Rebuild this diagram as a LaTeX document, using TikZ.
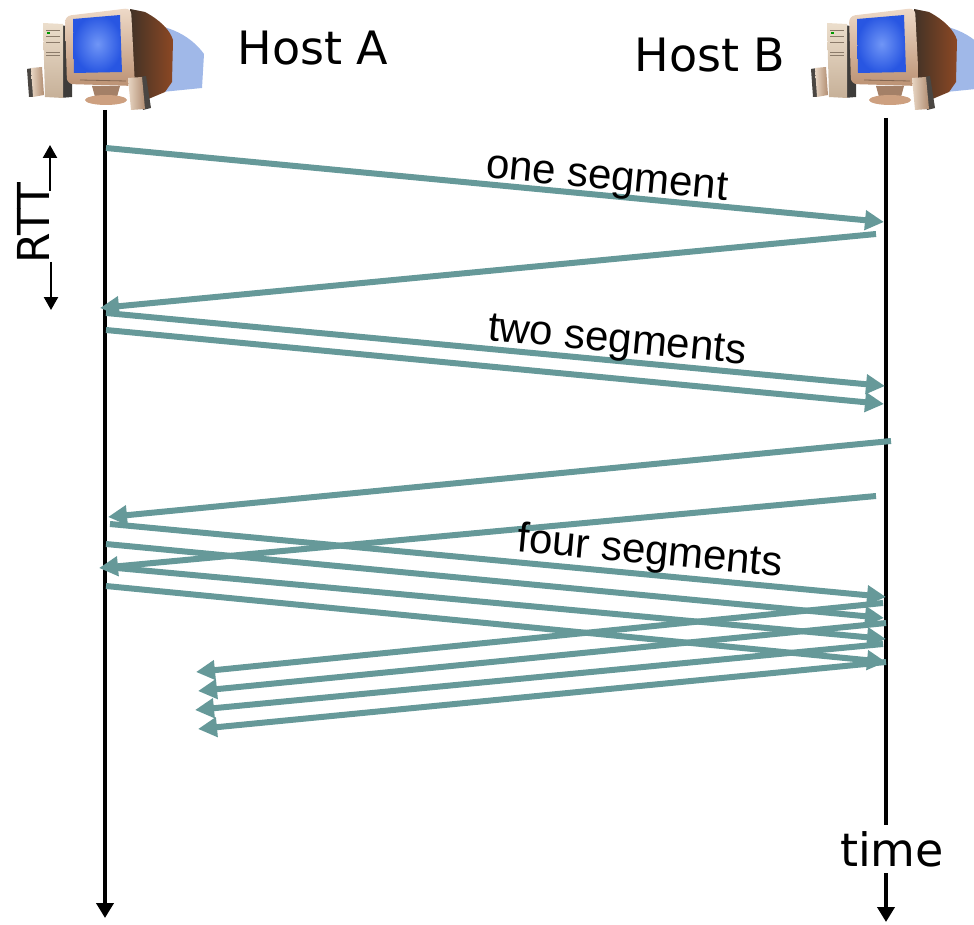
\documentclass[tikz,border=0pt]{standalone}
\usepackage{fontspec}
\setmainfont{Liberation Sans}
\newfontfamily\handfont{DejaVu Sans}
\usetikzlibrary{arrows.meta}

\definecolor{segteal}{RGB}{102,153,153}
\definecolor{wallblue}{RGB}{160,184,232}
\definecolor{monback}{RGB}{66,50,38}
\definecolor{monrust}{RGB}{140,72,36}
\definecolor{bezellight}{RGB}{238,218,200}
\definecolor{bezeldark}{RGB}{188,146,116}
\definecolor{screenlight}{RGB}{112,150,246}
\definecolor{screendark}{RGB}{40,86,226}
\definecolor{caselight}{RGB}{236,222,204}
\definecolor{casedark}{RGB}{198,176,152}
\definecolor{caseside}{RGB}{62,60,58}
\definecolor{spklight}{RGB}{232,214,196}
\definecolor{spkmid}{RGB}{176,140,112}
\definecolor{spkdark}{RGB}{74,70,66}
\definecolor{standcol}{RGB}{205,160,128}

% desktop pc: tower, monitor and two speakers
\tikzset{
  computer/.pic={
    % shadow on the wall
    \fill[wallblue] (148,24) .. controls (176,27) and (194,40) .. (204,54)
      -- (202,88) -- (152,93) -- cycle;
    % back of the monitor
    \shade[left color=monback,right color=monrust] (130,9) -- (145,12)
      .. controls (160,20) and (170,30) .. (173,40) -- (172,82) -- (165,92)
      -- (146,100) -- (134,98) -- cycle;
    % tower
    \fill[caseside] (60,25) -- (72,27) -- (72,97) -- (60,98) -- cycle;
    \shade[top color=caselight,bottom color=casedark] (43,23) -- (63,24)
      -- (63,98) -- (45,97) -- cycle;
    \draw[casedark!70!black,line width=0.3pt] (46,30) -- (60,30) (46,36) -- (60,36)
      (46,42) -- (60,42) (46,52) -- (60,52) (46,55) -- (60,55);
    \fill[green!60!black] (47,32) rectangle (50,34);
    % left speaker
    \fill[spkdark] (27,69) -- (33,68) -- (34,97) -- (29,97) -- cycle;
    \shade[left color=spklight,right color=spkmid] (31,68) -- (42,67)
      -- (44,95) -- (33,97) -- cycle;
    % stand
    \fill[standcol!80!black] (92,86) -- (120,86) -- (117,97) -- (95,97) -- cycle;
    \fill[standcol] (106,100) ellipse [x radius=21,y radius=5];
    % monitor front and screen
    \shade[top color=bezellight,bottom color=bezeldark,rounded corners=3]
      (65,16) -- (131,8) -- (135,86) -- (67,84) -- cycle;
    \shade[inner color=screenlight,outer color=screendark] (73,19) -- (120,15)
      -- (122,72) -- (74,73) -- cycle;
    \draw[bezeldark!70!black,line width=0.4pt] (80,80) -- (126,81);
    % right speaker
    \fill[spkdark] (140,77) -- (146,76) -- (151,108) -- (143,110) -- cycle;
    \shade[left color=spklight,right color=spkmid] (128,78) -- (142,77)
      -- (145,109) -- (131,110) -- cycle;
  }
}

\begin{document}
\begin{tikzpicture}[x=0.5pt,y=-0.5pt,
    timeline/.style={line width=2pt,-{Triangle[length=7.5pt,width=8.5pt]}},
    seg/.style={segteal,line width=3pt,-{Triangle[length=9.5pt,width=9.5pt]}},
    host/.style={font=\handfont\fontsize{23}{27}\selectfont},
    seglabel/.style={font=\fontsize{21}{25}\selectfont,rotate=-5.3,anchor=base},
    rttarrow/.style={line width=1.2pt,-{Triangle[length=6.5pt,width=7pt]}}]
  \useasboundingbox (0,0) rectangle (974,925);

  % the two hosts
  \pic (pcA) at (0,0) {computer};
  \pic (pcB) at (784,0) {computer};
  \node[host,anchor=base] (hostA) at (313,65) {Host A};
  \node[host,anchor=base] (hostB) at (710,72) {Host B};

  % time lines
  \coordinate (aTop) at (105,110);
  \coordinate (aEnd) at (105,918);
  \coordinate (bTop) at (886,118);
  \coordinate (bEnd) at (886,922);
  \node[host,fill=white,inner sep=3pt] (time) at (892,849) {time};
  \draw[timeline] (aTop) -- (aEnd);
  \draw[line width=2pt] (bTop) -- (bTop |- time.north);
  \draw[timeline] (bEnd |- time.south) -- (bEnd);

  % RTT marker
  \node[host,font=\handfont\fontsize{22}{26}\selectfont,rotate=90] (rtt) at (33,223) {RTT};
  \coordinate (rttUpA) at (50,191);
  \coordinate (rttUpB) at (50,145);
  \coordinate (rttDnA) at (51,262);
  \coordinate (rttDnB) at (51,310);
  \draw[rttarrow] (rttUpA) -- (rttUpB);
  \draw[rttarrow] (rttDnA) -- (rttDnB);

  % data segments A -> B
  \foreach \n/\xa/\ya/\xb/\yb in {1/106/148/884/222, 2/106/313/885/386,
      3/106/330/884/404, 4/110/524/886/597, 5/106/544/884/618,
      6/106/567/886/639, 7/106/586/886/662}{
    \coordinate (snd\n) at (\xa,\ya);
    \coordinate (rcv\n) at (\xb,\yb);
    \draw[seg] (snd\n) -- (rcv\n);
  }

  % acks B -> A
  \foreach \n/\xa/\ya/\xb/\yb in {1/876/234/100/308, 2/891/441/108/517,
      3/876/496/99/568, 4/883/603/196/672, 5/886/623/198/691,
      6/883/644/195/710, 7/886/662/198/729}{
    \coordinate (ackS\n) at (\xa,\ya);
    \coordinate (ackR\n) at (\xb,\yb);
    \draw[seg] (ackS\n) -- (ackR\n);
  }

  \node[seglabel] (one) at (606,189) {one segment};
  \node[seglabel] (two) at (616,352) {two segments};
  \node[seglabel] (four) at (649,564) {four segments};
\end{tikzpicture}
\end{document}
